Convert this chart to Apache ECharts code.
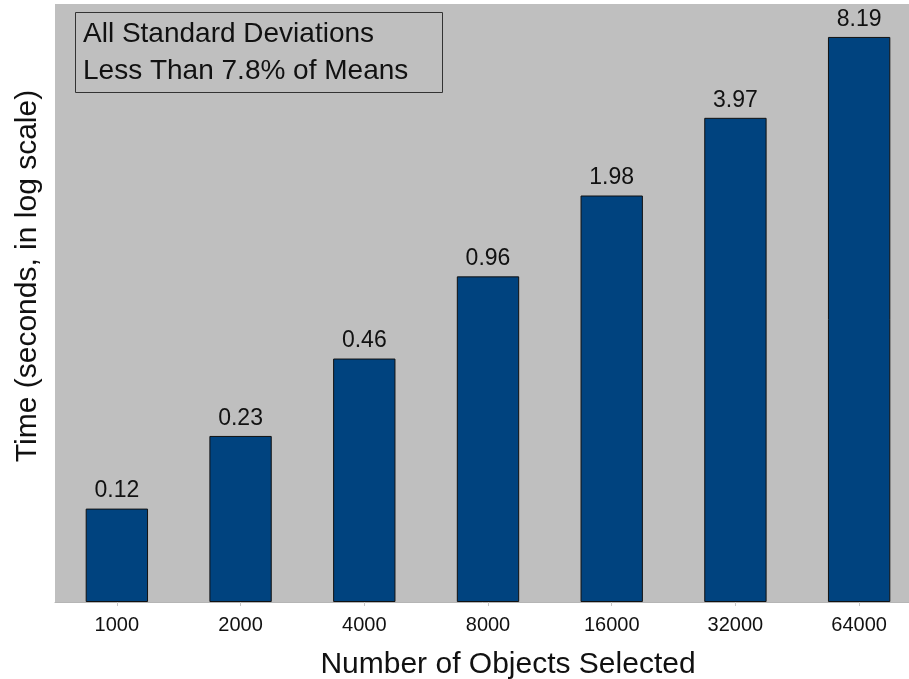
<!DOCTYPE html>
<html>
<head>
<meta charset="utf-8">
<script src="https://cdn.jsdelivr.net/npm/echarts@6/dist/echarts.min.js"></script>
<style>
  html, body { margin: 0; padding: 0; background: #fff; }
  #chart { width: 909px; height: 679px; }
</style>
</head>
<body>
<div id="chart"></div>
<script>
var objectCounts = ['1000', '2000', '4000', '8000', '16000', '32000', '64000'];
var seconds = [0.12, 0.23, 0.46, 0.96, 1.98, 3.97, 8.19];
var noteLines = ['All Standard Deviations', 'Less Than 7.8% of Means'];

// log axis bars grow from 1, so stack each bar on an invisible base at the axis floor
var axisFloor = 0.052;
var baseValues = seconds.map(function () { return axisFloor; });
var barValues = seconds.map(function (v) { return v - axisFloor; });

var chartDom = document.getElementById('chart');
var chart = echarts.init(chartDom);
var font = '"Liberation Sans", Arial, Helvetica, sans-serif';

var option = {
    animation: false,
    textStyle: { fontFamily: font },
    grid: {
        left: 55,
        top: 4,
        width: 866,
        bottom: 77,
        outerBoundsMode: 'none',
        show: true,
        backgroundColor: '#bfbfbf',
        borderWidth: 0
    },
    xAxis: {
        type: 'category',
        data: objectCounts,
        name: 'Number of Objects Selected',
        nameLocation: 'middle',
        nameGap: 48,
        nameTextStyle: { fontSize: 30, color: '#111', fontFamily: font, padding: [0, 0, 0, 40] },
        axisLine: { show: true, lineStyle: { color: '#b5b5b5', width: 1 } },
        axisTick: { show: true, alignWithLabel: true, length: 4, lineStyle: { color: '#c8c8c8' } },
        axisLabel: { fontSize: 20, color: '#111', margin: 13, fontFamily: font }
    },
    yAxis: {
        type: 'log',
        min: axisFloor,
        max: 11,
        axisLine: { show: false },
        axisTick: { show: false },
        axisLabel: { show: false },
        splitLine: { show: false }
    },
    series: [
        {
            type: 'bar',
            stack: 'time',
            data: baseValues,
            barWidth: '50.4%',
            itemStyle: { color: 'transparent' },
            silent: true
        },
        {
            type: 'bar',
            stack: 'time',
            data: barValues,
            barWidth: '50.4%',
            itemStyle: { color: '#00437f', borderColor: '#111', borderWidth: 1 },
            label: {
                show: true,
                position: 'top',
                distance: 6,
                fontSize: 23,
                color: '#111',
                fontFamily: font,
                formatter: function (p) { return seconds[p.dataIndex].toFixed(2); }
            }
        }
    ],
    graphic: [
        {
            type: 'rect',
            shape: { x: 75.5, y: 12.5, width: 367, height: 80 },
            style: { fill: 'none', stroke: '#333', lineWidth: 1 }
        },
        {
            type: 'text',
            x: 83,
            y: 34,
            style: {
                text: noteLines[0],
                font: '28px ' + font,
                fill: '#111',
                textVerticalAlign: 'middle'
            }
        },
        {
            type: 'text',
            x: 83,
            y: 71,
            style: {
                text: noteLines[1],
                font: '28px ' + font,
                fill: '#111',
                textVerticalAlign: 'middle'
            }
        },
        {
            type: 'text',
            x: 28,
            y: 276,
            rotation: Math.PI / 2,
            style: {
                text: 'Time (seconds, in log scale)',
                font: '30px ' + font,
                fill: '#111',
                textAlign: 'center',
                textVerticalAlign: 'middle'
            }
        }
    ]
};

chart.setOption(option);

const resizeObserver = new ResizeObserver(() => {
    chart.resize();
});
resizeObserver.observe(chartDom);
</script>
</body>
</html>
